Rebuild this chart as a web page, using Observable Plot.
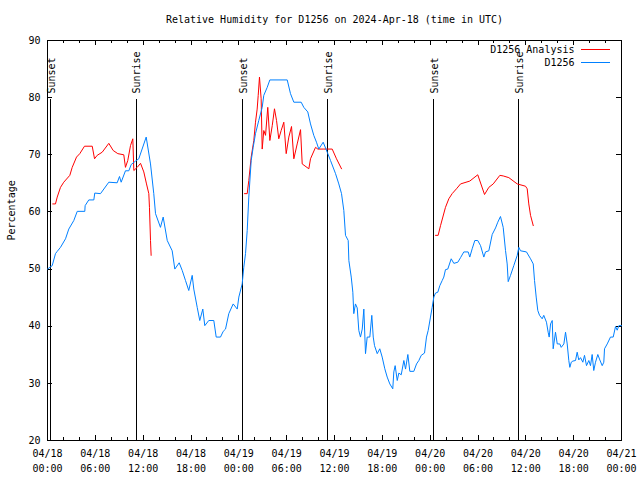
<!DOCTYPE html>
<html><head><meta charset="utf-8">
<script src="https://cdn.jsdelivr.net/npm/d3@7"></script>
<script src="https://cdn.jsdelivr.net/npm/@observablehq/plot@0.6"></script>
<style>body{margin:0;background:#fff} svg{display:block}</style>
</head><body><div id="chart"></div>
<script>
const startUTC = Date.UTC(2024, 3, 18);
const titleText = "Relative Humidity for D1256 on 2024-Apr-18 (time in UTC)";
const yLabel = "Percentage";
const seriesNames = ["D1256 Analysis", "D1256"];
const seriesColors = ["#ff0000", "#0080ff"];

// D1256 observations: hours since 04/18 00:00 UTC, and % RH
const blueHours = [0.0,0.59,1.0,1.22,1.63,2.26,2.67,3.30,3.73,4.68,4.72,5.18,5.81,5.93,6.65,7.69,8.74,9.03,9.24,9.78,10.2,10.5,11.04,11.45,12.38,12.92,13.33,13.55,14.17,14.51,15.02,15.64,15.97,16.52,16.9,17.31,17.72,18.15,18.35,18.78,19.1,19.48,19.73,20.23,20.86,21.16,21.7,22.04,22.33,22.74,23.29,23.8,24.0,24.42,24.62,24.84,25.05,25.25,25.55,25.8,26.09,26.5,26.93,27.13,27.56,27.89,30.07,30.48,30.9,31.82,32.15,32.65,32.99,33.4,33.74,34.03,34.58,35.09,35.5,36.13,36.54,36.88,37.17,37.38,37.72,37.8,38.1,38.3,38.42,38.63,38.85,39.05,39.26,39.48,39.68,39.89,40.1,40.43,40.68,40.86,41.02,41.36,41.68,41.98,42.31,42.61,42.94,43.31,43.44,43.61,43.87,44.07,44.37,44.7,44.91,45.2,45.45,45.95,46.29,46.58,46.88,47.29,47.54,47.75,48.04,48.25,48.46,48.67,48.96,49.21,49.51,49.71,49.92,50.21,50.64,50.97,51.47,51.81,52.22,52.77,52.97,53.27,53.6,53.97,54.32,54.73,54.94,55.36,55.78,56.2,56.48,56.82,57.16,57.45,57.66,57.79,58.08,58.49,58.92,59.12,59.33,60.08,60.59,60.93,61.09,61.3,61.5,61.72,62.05,62.25,62.59,62.8,62.93,63.1,63.31,63.43,63.72,63.94,64.26,64.44,64.77,64.98,65.19,65.39,65.52,65.7,65.9,66.23,66.44,66.64,66.86,67.15,67.36,67.61,67.9,68.11,68.32,68.52,68.74,69.03,69.28,69.58,69.78,69.87,70.21,70.62,70.96,71.25,71.46,71.67,72.0];
const blueValues = [50.0,50.6,52.7,53.1,53.8,55.3,57.0,58.5,60.1,60.1,61.1,62.1,62.1,63.3,63.2,65.2,65.1,66.2,65.2,67.2,67.2,68.3,68.9,69.3,73.1,68.4,63.2,59.7,57.3,59.1,55.0,53.2,50.0,51.1,49.75,48.0,46.25,48.9,46.5,43.3,41.0,43.0,40.1,41.0,41.0,38.1,38.1,39.1,39.5,42.2,43.9,43.0,45.1,47.4,50.3,52.7,56.75,62.6,69.0,71.3,73.7,76.0,78.3,80.4,81.8,83.1,83.1,80.7,79.2,79.2,78.3,77.5,75.4,73.4,72.2,71.0,72.2,70.45,69.0,66.7,64.9,63.2,60.25,55.9,55.0,51.5,48.6,45.95,42.2,43.9,43.2,39.25,38.1,39.5,43.0,35.2,38.1,38.1,41.9,38.1,36.6,35.2,36.05,34.6,32.55,31.1,29.9,29.05,32.0,33.1,30.5,31.8,31.5,34.0,32.5,35.05,32.1,32.1,33.4,34.0,34.9,35.3,38.1,39.25,41.6,43.3,45.1,45.8,45.95,47.1,48.0,48.6,49.9,50.0,51.8,51.0,51.2,52.0,53.0,53.0,52.1,53.55,55.0,55.0,54.1,52.1,53.0,53.2,56.05,57.2,58.2,59.2,57.3,53.25,50.9,47.8,48.9,50.6,52.4,53.8,53.2,53.0,51.8,50.9,48.0,45.1,42.75,41.9,41.3,41.9,40.7,38.95,38.1,40.4,41.0,36.05,38.95,36.9,36.9,36.3,36.9,38.95,36.9,34.0,32.8,33.7,33.9,34.0,35.45,34.1,34.5,33.7,34.9,33.1,34.0,33.1,35.05,32.25,33.7,35.05,34.1,33.1,33.7,36.05,36.9,38.1,38.1,39.95,39.3,40.1,40.1];

// D1256 Analysis (NaN marks a gap between runs)
const redHours = [0.66,1.0,1.22,1.63,2.04,2.8,3.1,3.64,4.05,4.64,5.61,5.9,6.23,6.86,7.69,8.24,8.82,9.57,9.78,10.07,10.41,10.7,10.83,11.25,11.67,12.08,12.42,12.71,12.79,12.92,13.0,
  18.0,
  24.71,25.05,25.25,25.55,25.88,26.09,26.3,26.43,26.59,26.8,26.93,27.13,27.35,27.63,27.89,28.19,28.47,28.73,29.01,29.31,29.64,29.94,30.27,30.61,30.9,31.32,31.74,31.95,32.78,32.99,33.62,33.91,34.66,35.71,36.25,36.88,
  42.0,
  48.67,49.0,49.3,49.92,50.34,50.76,51.3,51.81,52.97,53.97,54.82,55.36,55.91,56.74,57.16,57.87,58.92,59.96,60.17,60.37,60.59,60.93];
const redValues = [61.4,61.4,62.6,64.3,65.2,66.4,67.8,69.6,70.2,71.5,71.5,69.3,69.9,70.45,72.0,70.75,70.2,70.0,67.8,69.0,71.6,72.8,67.25,67.8,68.5,67.0,64.9,63.2,60.8,55.0,52.4,
  NaN,
  63.2,63.2,65.5,69.6,72.5,75.7,78.0,80.4,83.6,79.8,71.0,74.25,73.4,78.3,72.5,75.1,78.05,76.0,72.8,74.25,75.7,70.2,73.1,74.95,69.3,71.9,74.4,68.4,67.55,69.3,71.3,71.0,71.0,71.0,69.3,67.55,
  NaN,
  55.9,55.9,57.6,60.8,62.3,63.2,64.05,64.9,65.4,66.5,63.05,64.3,64.9,66.4,66.3,66.0,64.9,64.5,64.05,61.4,59.4,57.6];

const sunHours = [0.43, 11.13, 24.47, 35.13, 48.47, 59.11];
const sunLabels = ["Sunset", "Sunrise", "Sunset", "Sunrise", "Sunset", "Sunrise"];

const xTickHours = [0,6,12,18,24,30,36,42,48,54,60,66,72];
const xTickDates = ["04/18","04/18","04/18","04/18","04/19","04/19","04/19","04/19","04/20","04/20","04/20","04/20","04/21"];
const xTickTimes = ["00:00","06:00","12:00","18:00","00:00","06:00","12:00","18:00","00:00","06:00","12:00","18:00","00:00"];
const xMinorHours = [2,4,8,10,14,16,20,22,26,28,32,34,38,40,44,46,50,52,56,58,62,64,68,70];
const yTicks = [20,30,40,50,60,70,80,90];

const toDate = h => new Date(startUTC + h * 3600e3);
const blue = blueHours.map((h, i) => ({t: toDate(h), v: blueValues[i]}));
const red = redHours.map((h, i) => ({t: toDate(h), v: redValues[i]}));
const sun = sunHours.map((h, i) => ({t: toDate(h), label: sunLabels[i]}));
const xTicks = xTickHours.map((h, i) => ({t: toDate(h), d: xTickDates[i], tm: xTickTimes[i]}));
const xMinor = xMinorHours.map(toDate);

const W = 640, H = 480, ML = 47, MR = 19, MT = 40, MB = 40;
const plotH = H - MT - MB, plotW = W - ML - MR;
const font = "DejaVu Sans Mono";

const chart = Plot.plot({
  width: W, height: H,
  marginLeft: ML, marginRight: MR, marginTop: MT, marginBottom: MB,
  style: {fontFamily: font, fontSize: "10px", background: "#fff", color: "#000"},
  x: {type: "utc", domain: [toDate(0), toDate(72)], axis: null},
  y: {domain: [20, 90], axis: null},
  marks: [
    Plot.frame({stroke: "#000", strokeWidth: 1}),
    // minor x ticks (bottom & top, inward)
    Plot.ruleX(xMinor, {x: d => d, insetTop: plotH - 3, stroke: "#000", strokeWidth: 1}),
    Plot.ruleX(xMinor, {x: d => d, insetBottom: plotH - 3, stroke: "#000", strokeWidth: 1}),
    // major x ticks
    Plot.ruleX(xTicks, {x: "t", insetTop: plotH - 5, stroke: "#000", strokeWidth: 1}),
    Plot.ruleX(xTicks, {x: "t", insetBottom: plotH - 5, stroke: "#000", strokeWidth: 1}),
    // y ticks left & right
    Plot.ruleY(yTicks, {y: d => d, insetRight: plotW - 5, stroke: "#000", strokeWidth: 1}),
    Plot.ruleY(yTicks, {y: d => d, insetLeft: plotW - 5, stroke: "#000", strokeWidth: 1}),
    // tick labels
    Plot.text(xTicks, {x: "t", text: "d", frameAnchor: "bottom", dy: 13, lineAnchor: "middle", fill: "#000"}),
    Plot.text(xTicks, {x: "t", text: "tm", frameAnchor: "bottom", dy: 28, lineAnchor: "middle", fill: "#000"}),
    Plot.text(yTicks, {y: d => d, text: d => String(d), frameAnchor: "left", dx: -7, textAnchor: "end", lineAnchor: "middle", fill: "#000"}),
    // axis label & title
    Plot.text([yLabel], {text: d => d, frameAnchor: "left", dx: -36, rotate: -90, lineAnchor: "middle", fill: "#000"}),
    Plot.text([titleText], {text: d => d, frameAnchor: "top", dy: -21, lineAnchor: "middle", fill: "#000"}),
    // sunrise / sunset
    Plot.ruleX(sun, {x: "t", insetTop: 59, stroke: "#000", strokeWidth: 1}),
    Plot.text(sun, {x: "t", text: "label", frameAnchor: "top", dy: 53, dx: 1, rotate: -90, textAnchor: "start", lineAnchor: "middle", fill: "#000"}),
    // series
    Plot.line(red, {x: "t", y: "v", stroke: seriesColors[0], strokeWidth: 1}),
    Plot.line(blue, {x: "t", y: "v", stroke: seriesColors[1], strokeWidth: 1}),
    // legend text
    Plot.text([seriesNames[0]], {text: d => d, frameAnchor: "top-right", dx: -47, dy: 9, textAnchor: "end", lineAnchor: "middle", fill: "#000"}),
    Plot.text([seriesNames[1]], {text: d => d, frameAnchor: "top-right", dx: -47, dy: 22, textAnchor: "end", lineAnchor: "middle", fill: "#000"})
  ]
});

// legend swatches
const svg = d3.select(chart);
seriesColors.forEach((c, i) => {
  svg.append("line")
    .attr("x1", W - MR - 40).attr("x2", W - MR - 11)
    .attr("y1", MT + 9.5 + i * 13).attr("y2", MT + 9.5 + i * 13)
    .attr("stroke", c).attr("stroke-width", 1.2);
});
svg.selectAll("line, rect").attr("shape-rendering", "crispEdges");
document.getElementById("chart").appendChild(chart);
</script>
</body></html>
